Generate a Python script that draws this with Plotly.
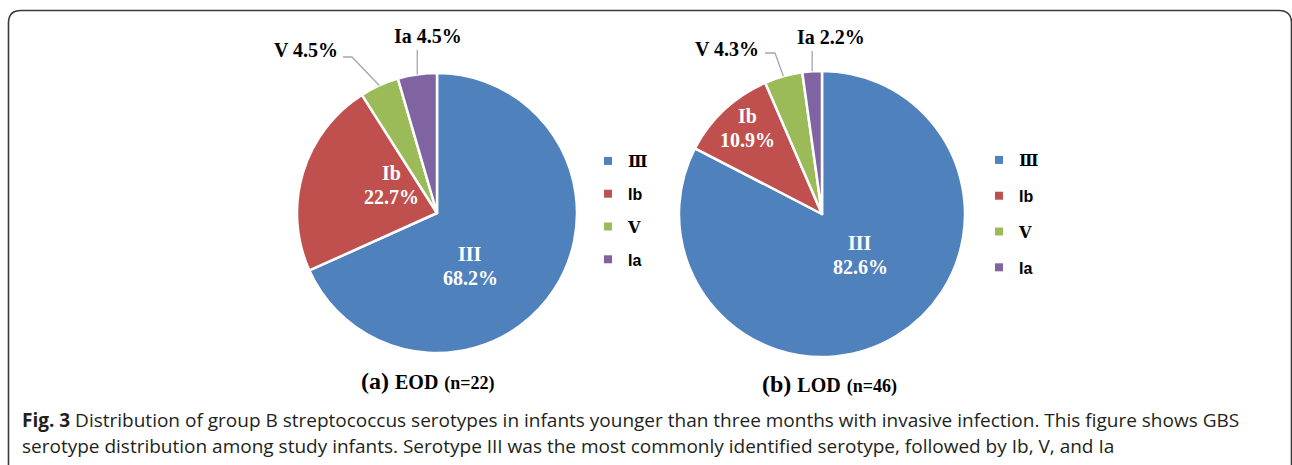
import math
import plotly.graph_objects as go

W, H = 1292, 465

# ---------------- data ----------------
serotypes = ["III", "Ib", "V", "Ia"]
legend_labels = ["Ⅲ", "Ib", "Ⅴ", "Ia"]
eod_values = [68.2, 22.7, 4.5, 4.5]   # (a) EOD, n=22
lod_values = [82.6, 10.9, 4.3, 2.2]   # (b) LOD, n=46
colors = ["#4F81BD", "#C0504D", "#9BBB59", "#8064A2"]
panel_titles = [("(a)", "EOD", "(n=22)"), ("(b)", "LOD", "(n=46)")]
caption_line1 = ("<b>Fig. 3</b> Distribution of group B streptococcus serotypes in infants younger "
                 "than three months with invasive infection. This figure shows GBS")
caption_line2 = ("serotype distribution among study infants. Serotype III was the most commonly "
                 "identified serotype, followed by Ib, V, and Ia")

# ---------------- layout helpers (pixel -> paper) ----------------
def px(x):
    return x / W

def py(y):
    return 1 - y / H

panels = [
    dict(values=eod_values, cx=437, cy=213, r=140, legend="legend",
         leg_x=588, leg_y=144, gap=9,
         inside=[(470, 266), (391, 185)],
         v_label=(340, 50), v_elbow=(352, 57), v_end=(343, 57),
         ia_label=(428, 36), ia_end_y=50, title_xy=(428, 381)),
    dict(values=lod_values, cx=822, cy=214, r=143, legend="legend2",
         leg_x=979, leg_y=143, gap=12,
         inside=[(860, 255), (747, 128)],
         v_label=(761, 49), v_elbow=(775, 53), v_end=(765, 53),
         ia_label=(831, 37), ia_end_y=51, title_xy=(829, 384)),
]


def slice_edge(values, idx, cx, cy, r):
    cum = sum(values[:idx]) + values[idx] / 2.0
    theta = 2 * math.pi * cum / sum(values)
    return cx + r * math.sin(theta), cy - r * math.cos(theta)


fig = go.Figure()
shapes = []
annotations = []
serif = "Liberation Serif"
label_font_w = dict(family=serif, size=20, color="white", weight="bold")
label_font_k = dict(family=serif, size=20, color="black", weight="bold")

for p in panels:
    vals = p["values"]
    cx, cy, r = p["cx"], p["cy"], p["r"]
    fig.add_trace(go.Pie(
        values=vals, labels=serotypes, sort=False, direction="clockwise", rotation=0,
        marker=dict(colors=colors, line=dict(color="white", width=2.5)),
        domain=dict(x=[px(cx - r), px(cx + r)], y=[py(cy + r), py(cy - r)]),
        textinfo="none", showlegend=False, hoverinfo="label+value",
    ))
    # legend entries
    for lab, col in zip(legend_labels, colors):
        if lab in ("Ⅲ", "Ⅴ"):
            name = '<span style="font-family:\'DejaVu Serif\'">%s</span>' % lab
        else:
            name = lab
        fig.add_trace(go.Scatter(
            x=[None], y=[None], mode="markers", name=name,
            marker=dict(symbol="square", size=8, color=col),
            legend=p["legend"], legendgroup=p["legend"] + lab, showlegend=True,
        ))

    # inside labels (III, Ib)
    for i, (lx, ly) in enumerate(p["inside"]):
        for txt, dy in ((serotypes[i], -12), ("%.1f%%" % vals[i], 12)):
            annotations.append(dict(x=px(lx), y=py(ly + dy), xref="paper", yref="paper",
                                    xanchor="center", yanchor="middle", showarrow=False,
                                    text=txt, font=label_font_w))

    # outside labels with leader lines (V and Ia)
    line_style = dict(color="#A6A6A6", width=1.3)
    vx, vy = slice_edge(vals, 2, cx, cy, r)
    ex, ey = p["v_elbow"]
    sx, sy = p["v_end"]
    shapes.append(dict(type="path", xref="paper", yref="paper",
                       path="M%f,%f L%f,%f L%f,%f" % (px(vx), py(vy), px(ex), py(ey), px(sx), py(sy)),
                       line=line_style))
    lx, ly = p["v_label"]
    annotations.append(dict(x=px(lx), y=py(ly), xref="paper", yref="paper", xanchor="right",
                            yanchor="middle", showarrow=False,
                            text="%s %.1f%%" % (serotypes[2], vals[2]), font=label_font_k))
    ix, iy = slice_edge(vals, 3, cx, cy, r)
    shapes.append(dict(type="line", xref="paper", yref="paper",
                       x0=px(ix), y0=py(iy), x1=px(ix), y1=py(p["ia_end_y"]), line=line_style))
    lx, ly = p["ia_label"]
    annotations.append(dict(x=px(lx), y=py(ly), xref="paper", yref="paper", xanchor="center",
                            yanchor="middle", showarrow=False,
                            text="%s %.1f%%" % (serotypes[3], vals[3]), font=label_font_k))

# panel titles
for p, (tag, grp, n) in zip(panels, panel_titles):
    tx, ty = p["title_xy"]
    annotations.append(dict(
        x=px(tx), y=py(ty), xref="paper", yref="paper", xanchor="center", yanchor="middle",
        showarrow=False,
        text='<b>%s</b> <b><span style="font-size:20px">%s</span> <span style="font-size:18px">%s</span></b>'
             % (tag, grp, n),
        font=dict(family=serif, size=24, color="black")))

# caption
for txt, yy in ((caption_line1, 420), (caption_line2, 446)):
    annotations.append(dict(x=px(20), y=py(yy), xref="paper", yref="paper", xanchor="left",
                            yanchor="middle", showarrow=False, text=txt,
                            font=dict(family="Open Sans", size=19, color="#231F20")))

# rounded frame
shapes.append(dict(type="path", xref="paper", yref="paper",
                   path="M%f,%f L%f,%f Q%f,%f %f,%f L%f,%f Q%f,%f %f,%f L%f,%f" % (
                       px(8.5), py(480), px(8.5), py(23), px(8.5), py(10.5), px(21), py(10.5),
                       px(1279), py(10.5), px(1291.5), py(10.5), px(1291.5), py(23),
                       px(1291.5), py(480)),
                   line=dict(color="#3A3A3A", width=1.6)))

legend_common = dict(xanchor="left", yanchor="top", bgcolor="rgba(0,0,0,0)",
                     font=dict(family="Liberation Sans", size=16, color="black", weight="bold"),
                     itemwidth=30, itemclick=False, itemdoubleclick=False)
fig.update_layout(
    width=W, height=H, margin=dict(l=0, r=0, t=0, b=0),
    paper_bgcolor="white", plot_bgcolor="white",
    xaxis=dict(visible=False), yaxis=dict(visible=False),
    legend=dict(x=px(panels[0]["leg_x"]), y=py(panels[0]["leg_y"]),
                tracegroupgap=panels[0]["gap"], **legend_common),
    legend2=dict(x=px(panels[1]["leg_x"]), y=py(panels[1]["leg_y"]),
                 tracegroupgap=panels[1]["gap"], **legend_common),
    shapes=shapes, annotations=annotations,
)

fig.write_html("out.html", config={"displayModeBar": False},
               post_script="document.body.style.margin='0';document.body.style.overflow='hidden';")
